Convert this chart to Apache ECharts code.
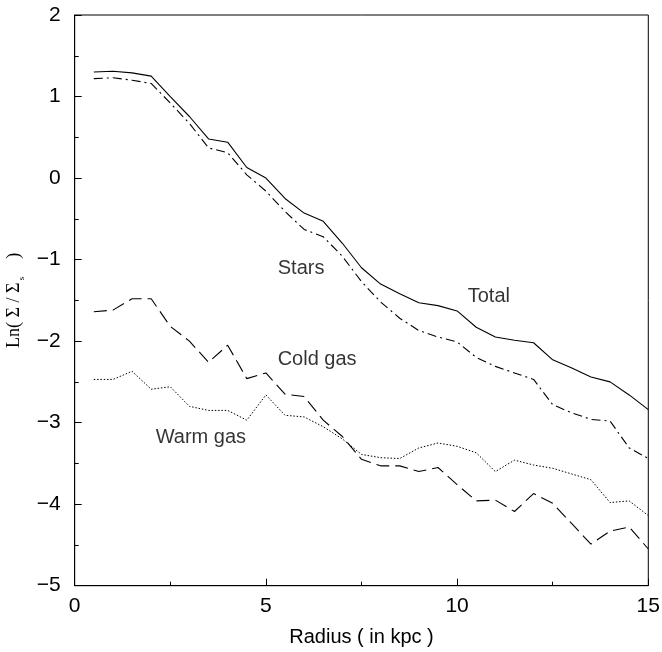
<!DOCTYPE html>
<html>
<head>
<meta charset="utf-8">
<script src="https://cdn.jsdelivr.net/npm/echarts@6/dist/echarts.min.js"></script>
<style>
html,body{margin:0;padding:0;background:#fff;}
#main{width:662px;height:652px;}
</style>
</head>
<body>
<div id="main"></div>
<script>
// Radius (kpc)
var radius = [0.5,1,1.5,2,2.5,3,3.5,4,4.5,5,5.5,6,6.5,7,7.5,8,8.5,9,9.5,10,10.5,11,11.5,12,12.5,13,13.5,14,14.5,15];
// Ln(Sigma / Sigma_s)
var total = [1.30,1.31,1.29,1.25,1.00,0.755,0.48,0.44,0.13,0.00,-0.25,-0.43,-0.53,-0.80,-1.10,-1.30,-1.42,-1.53,-1.565,-1.63,-1.83,-1.95,-1.99,-2.02,-2.23,-2.33,-2.44,-2.50,-2.66,-2.84];
var stars = [1.22,1.23,1.20,1.16,0.92,0.67,0.37,0.31,0.04,-0.16,-0.41,-0.63,-0.72,-0.96,-1.27,-1.52,-1.72,-1.87,-1.95,-2.01,-2.20,-2.31,-2.39,-2.47,-2.78,-2.88,-2.96,-2.98,-3.31,-3.44];
var coldGas = [-1.64,-1.62,-1.48,-1.48,-1.82,-2.00,-2.26,-2.05,-2.46,-2.39,-2.65,-2.68,-2.97,-3.17,-3.45,-3.53,-3.53,-3.60,-3.55,-3.76,-3.96,-3.95,-4.09,-3.87,-3.99,-4.24,-4.49,-4.33,-4.28,-4.55];
var warmGas = [-2.47,-2.47,-2.37,-2.59,-2.56,-2.80,-2.85,-2.85,-2.97,-2.66,-2.91,-2.93,-3.05,-3.20,-3.39,-3.43,-3.44,-3.31,-3.25,-3.29,-3.37,-3.60,-3.46,-3.52,-3.56,-3.63,-3.70,-3.98,-3.96,-4.14];
// Axis ticks
var xTicks = [0,5,10,15];
var yTicks = [-5,-4,-3,-2,-1,0,1,2];
// Curve labels (text and data-space anchor)
var labelTexts = ['Stars','Total','Cold gas','Warm gas'];
var labelR = [5.92,10.83,6.34,3.30];
var labelV = [-1.11,-1.455,-2.23,-3.18];

function pairs(ys){ return radius.map(function(r,i){ return [r, ys[i]]; }); }
function fmt(v){ return v < 0 ? '\u2212' + Math.abs(v) : String(v); }

var chart = echarts.init(document.getElementById('main'), null, {renderer:'canvas'});
var FONT = 'Liberation Sans, Arial, sans-serif';
var SERIF = 'Liberation Serif, Times New Roman, serif';
var option = {
  animation:false,
  backgroundColor:'#fff',
  grid:{left:74.7, right:13.7, top:15, bottom:66.3, containLabel:false, outerBoundsMode:'none',
    show:true, borderColor:'#000', borderWidth:1, backgroundColor:'transparent'},
  xAxis:{
    type:'value', min:xTicks[0], max:xTicks[xTicks.length-1], interval:5,
    axisLine:{show:true, onZero:false, lineStyle:{color:'#000', width:1}},
    axisTick:{show:true, inside:true, length:7, lineStyle:{color:'#000'}},
    minorTick:{show:true, splitNumber:2, length:4, lineStyle:{color:'#000'}},
    splitLine:{show:false},
    axisLabel:{color:'#000', fontSize:21, fontFamily:FONT, margin:10, formatter:fmt},
    name:'Radius ( in kpc )', nameLocation:'middle', nameGap:42,
    nameTextStyle:{color:'#000', fontSize:20, fontFamily:FONT}
  },
  yAxis:{
    type:'value', min:yTicks[0], max:yTicks[yTicks.length-1], interval:1,
    axisLine:{show:true, onZero:false, lineStyle:{color:'#000', width:1}},
    axisTick:{show:true, inside:true, length:7, lineStyle:{color:'#000'}},
    minorTick:{show:true, splitNumber:2, length:4, lineStyle:{color:'#000'}},
    splitLine:{show:false},
    axisLabel:{color:'#000', fontSize:21, fontFamily:FONT, margin:14, formatter:fmt},
    name:'{a|Ln( \u03A3 / \u03A3}{s| s}{a|    )}', nameLocation:'middle', nameGap:45, nameRotate:90,
    nameTextStyle:{color:'#000', fontFamily:SERIF,
      rich:{
        a:{fontSize:18, fontFamily:SERIF, color:'#000', verticalAlign:'bottom'},
        s:{fontSize:9, fontFamily:SERIF, color:'#000', verticalAlign:'bottom', padding:[0,0,-3,0]}
      }}
  },
  series:[
    {name:'Total', type:'line', data:pairs(total), symbol:'none', lineStyle:{color:'#000', width:1.1, type:'solid'}},
    {name:'Stars', type:'line', data:pairs(stars), symbol:'none', lineStyle:{color:'#000', width:1.1, type:[9,4,2,4]}},
    {name:'Cold gas', type:'line', data:pairs(coldGas), symbol:'none', lineStyle:{color:'#000', width:1.1, type:[13,6]}},
    {name:'Warm gas', type:'line', data:pairs(warmGas), symbol:'none', lineStyle:{color:'#000', width:1, type:[1.5,1.8]}},
    {name:'labels', type:'scatter', symbolSize:0, silent:true,
      data:labelTexts.map(function(t,i){ return {name:t, value:[labelR[i], labelV[i]]}; }),
      label:{show:true, position:'inside', formatter:function(p){ return p.name; }, color:'#000', fontSize:20, fontFamily:FONT}
    }
  ]
};
chart.setOption(option);
</script>
</body>
</html>
